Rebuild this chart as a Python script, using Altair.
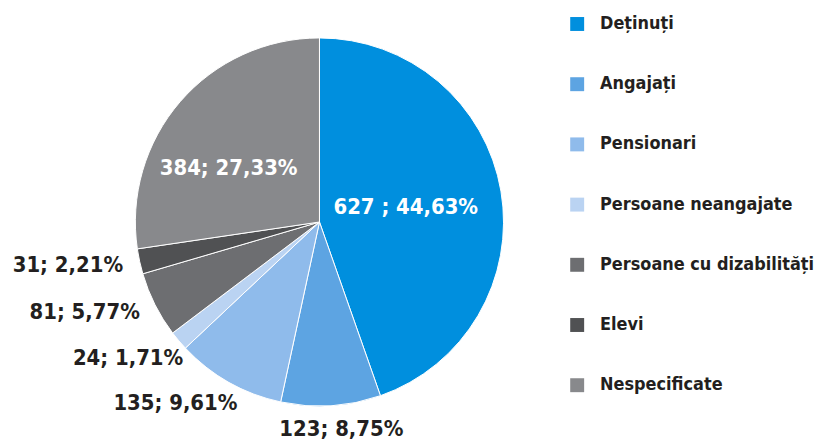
import altair as alt
import pandas as pd

categories = ["Deținuți", "Angajați", "Pensionari", "Persoane neangajate",
              "Persoane cu dizabilități", "Elevi", "Nespecificate"]
values = [627, 123, 135, 24, 81, 31, 384]
percent_labels = ["44,63%", "8,75%", "9,61%", "1,71%", "5,77%", "2,21%", "27,33%"]
colors = ["#008FDE", "#5DA4E2", "#8FBBEB", "#BAD3F2", "#6D6E71", "#505153", "#88898C"]
label_group = ["inside_a", "bottom", "left1", "left1", "left2", "left2", "inside_b"]

df = pd.DataFrame({
    "cat": categories,
    "val": values,
    "idx": list(range(len(categories))),
    "grp": label_group,
})
df["label"] = [f"{v}; {p}" if i != 0 else f"{v} ; {p}" for i, (v, p) in enumerate(zip(values, percent_labels))]

FONT = "Liberation Sans Narrow, DejaVu Sans Condensed, sans-serif"
total = sum(values)

pie = alt.Chart(df).mark_arc(radius=185, stroke="white", strokeWidth=1).encode(
    theta=alt.Theta("val:Q", stack=True, scale=alt.Scale(domain=[0, total])),
    order=alt.Order("idx:Q"),
    color=alt.Color(
        "cat:N",
        scale=alt.Scale(domain=categories, range=colors),
        sort=categories,
        legend=alt.Legend(
            title=None, orient="none", legendX=563, legendY=6, padding=0,
            symbolType="square", symbolSize=196, symbolStrokeWidth=0,
            labelFont=FONT, labelFontSize=18, labelFontWeight="bold",
            labelColor="#231F20", rowPadding=42.5, labelOffset=14,
            labelLimit=240,
        ),
    ),
)

text_base = alt.Chart(df).transform_window(
    cum="sum(val)", sort=[{"field": "idx"}], frame=[None, 0]
).transform_calculate(
    mid="datum.cum - datum.val / 2"
).encode(
    theta=alt.Theta("mid:Q", stack=None, scale=alt.Scale(domain=[0, total])),
    text="label:N",
)

def txt(grp, radius, align, color, dx=0, dy=0):
    return text_base.transform_filter(alt.datum.grp == grp).mark_text(
        radius=radius, align=align, baseline="middle", font=FONT,
        fontSize=22, fontWeight="bold", color=color, dx=dx, dy=dy,
    )

chart = alt.layer(
    pie,
    txt("inside_a", 88, "center", "white"),
    txt("inside_b", 106, "center", "white", dx=-11, dy=15),
    txt("bottom", 208, "center", "#231F20", dx=9),
    txt("left1", 200, "right", "#231F20", dx=16, dy=8),
    txt("left2", 202, "right", "#231F20"),
).properties(width=626, height=428, padding=0).configure_view(stroke=None)

chart.save("out.html", embed_options={"renderer": "svg", "actions": False})
